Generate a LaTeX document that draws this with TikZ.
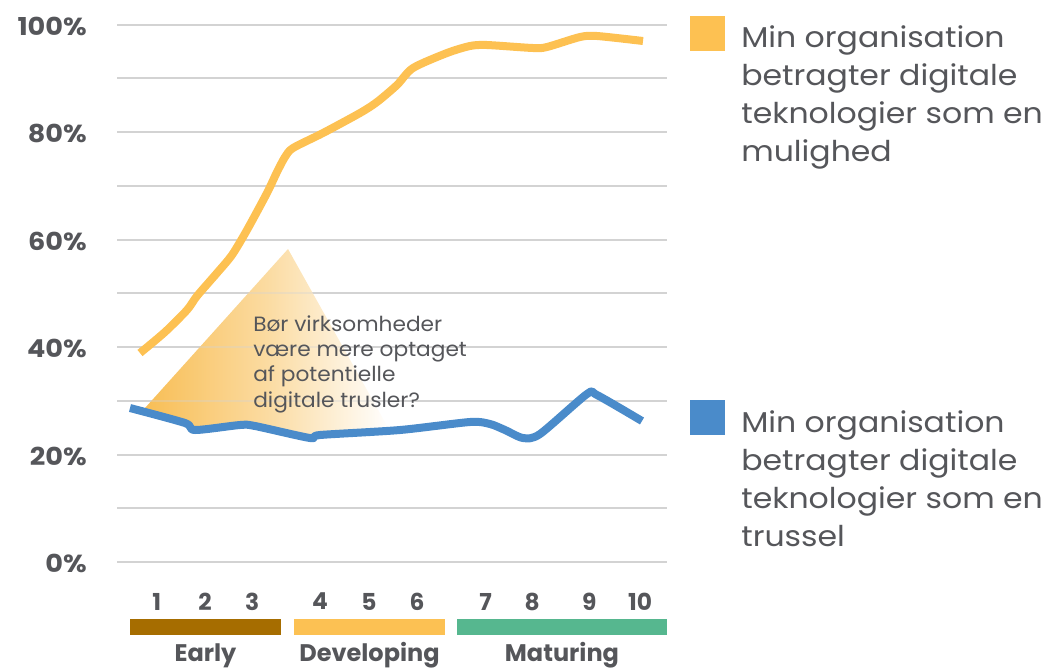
\documentclass[tikz,border=0pt]{standalone}
\usepackage{fontspec}
\setmainfont{Poppins}
\newfontfamily\wideface{Poppins}[FakeStretch=1.1]
\newfontfamily\noteface{Poppins}[FakeStretch=1.05]
\definecolor{textgray}{HTML}{55565A}
\definecolor{gridgray}{HTML}{D3D3D3}
\definecolor{lineorange}{HTML}{FDC152}
\definecolor{lineblue}{HTML}{4A8BCA}
\definecolor{stageearly}{HTML}{A66D00}
\definecolor{stagedev}{HTML}{FCC153}
\definecolor{stagemat}{HTML}{56B78F}
\definecolor{conefill}{HTML}{F8BE55}
\begin{document}
\begin{tikzpicture}[x=0.75pt,y=-0.75pt,
  gridline/.style={draw=gridgray, line width=1.5pt},
  axislabel/.style={font=\wideface\fontsize{18.5}{20}\selectfont\bfseries, text=textgray, anchor=east, inner sep=0pt},
  ticklabel/.style={font=\fontsize{17.5}{20}\selectfont\bfseries, text=textgray, inner sep=0pt},
  stagelabel/.style={font=\fontsize{18}{20}\selectfont\bfseries, text=textgray, anchor=base, inner sep=0pt},
  series/.style={line width=6pt, line join=round, line cap=butt},
  legendtext/.style={font=\wideface\fontsize{21.5}{28.5}\selectfont, text=textgray, anchor=north west, align=left, inner sep=0pt},
  note/.style={font=\noteface\fontsize{15.5}{19}\selectfont, text=textgray, anchor=north west, align=left, inner sep=0pt}
]
\useasboundingbox (0,0) rectangle (1058,669);

% horizontal grid, 0% .. 100% in steps of 10%
\foreach \k in {0,...,10}
  \draw[gridline] (117,{24.5+53.75*\k}) -- (667,{24.5+53.75*\k});

% value axis labels
\foreach \v/\k in {100/0,80/2,60/4,40/6,20/8,0/10}
  \node[axislabel] (lab\v) at (87,{26+53.75*\k}) {\v\%};

% shaded cone pointing at the threat curve
\def\conepath{(288,249) -- (145,408) -- (185,423) -- (195,430) -- (240,425) -- (255,426)
  -- (310,438) -- (320,435) -- (390,431) -- cycle}
\shade[left color=conefill, right color=white, middle color=conefill!55!white] \conepath;
\begin{scope}
  \clip \conepath;
  \foreach \k in {4,...,7}
    \draw[gridline, draw opacity=0.35] (117,{24.5+53.75*\k}) -- (667,{24.5+53.75*\k});
\end{scope}

% opportunity series
\draw[series, lineorange] plot[smooth, tension=0.45] coordinates {
  (140,353) (165,332) (187,310) (197,296) (217,273) (232,255) (247,230)
  (267,193) (277,172) (285,157) (293,148) (323,133) (360,113) (377,102)
  (397,85) (413,68) (447,53) (470,46) (487,45) (533,48) (547,47)
  (580,37) (597,36) (643,41)};

% threat series
\draw[series, lineblue] plot[smooth, tension=0.45] coordinates {
  (130,408) (185,423) (195,430) (240,425) (255,426) (310,438) (320,435)
  (400,430) (470,422) (490,424) (505,430) (523,438) (540,434)
  (587,394) (597,395) (642,421)};

% question inside the cone
\node[note] (question) at (253,315)
  {Bør virksomheder\\være mere optaget\\af potentielle\\digitale trusler?};

% stage numbers
\foreach \n/\x in {1/156.7,2/205,3/252.3,4/320,5/369,6/417,7/485.7,8/532.3,9/589.3,10/640}
  \node[ticklabel] (tick\n) at (\x,601.5) {\n};

% stage bars and names
\fill[stageearly] (130,619) rectangle (281,635);
\fill[stagedev]   (294,619) rectangle (445,635);
\fill[stagemat]   (457,619) rectangle (667,635);
\node[stagelabel] (early) at (205.5,661) {Early};
\node[stagelabel] (developing) at (369.5,661) {Developing};
\node[stagelabel] (maturing) at (562,661) {Maturing};

% legend
\fill[lineorange] (690,16) rectangle (725,51);
\node[legendtext] (legopp) at (741,25.5)
  {Min organisation\\betragter digitale\\teknologier som en\\mulighed};
\fill[lineblue] (690,400) rectangle (725,435);
\node[legendtext] (legthr) at (741,410.5)
  {Min organisation\\betragter digitale\\teknologier som en\\trussel};
\end{tikzpicture}
\end{document}
